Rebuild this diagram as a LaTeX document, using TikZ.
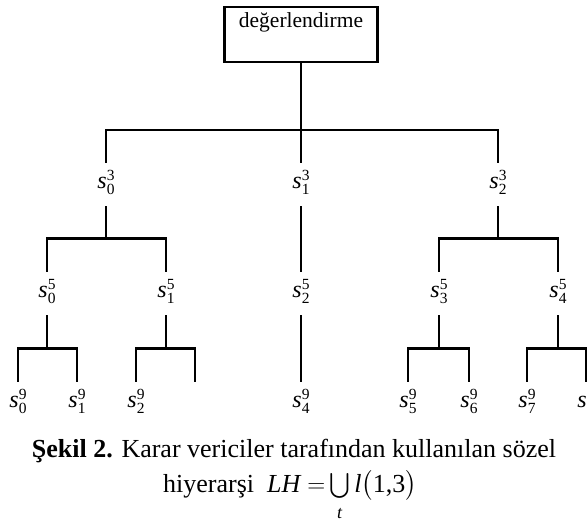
\documentclass[tikz,border=0pt]{standalone}
\usepackage{amsmath}
\usepackage{fontspec}
\setmainfont{Liberation Serif}

\newcommand{\svfont}{\fontsize{15.5}{16}\selectfont}
\newcommand{\sv}[2]{\textit{s}\raisebox{-6pt}{\svfont\begin{tabular}[b]{@{}l@{}}#2\\[-2pt]#1\end{tabular}}}

\tikzset{
    box/.style={draw, line width=2.2pt, minimum width=153pt, inner sep=0pt,
        text height=20pt, text depth=35pt, font=\fontsize{21.5}{24}\selectfont},
    lbl/.style={inner sep=0pt, minimum height=43pt, minimum width=20pt,
        font=\fontsize{24}{26}\selectfont},
    link/.style={line width=2.2pt},
    capline/.style={anchor=base, inner sep=0pt, font=\fontsize{26}{30}\selectfont},
}

\begin{document}
\begin{tikzpicture}[x=1pt, y=-1pt]
    \useasboundingbox (0,0) rectangle (587,523);
    \node [box, anchor=base] (r) at (301,27) {değerlendirme};
    % first level
    \node [lbl] (a0) at (106,184.5) {\sv{0}{3}};
    \node [lbl] (a1) at (301,184.5) {\sv{1}{3}};
    \node [lbl] (a2) at (498,184.5) {\sv{2}{3}};
    % second level
    \node [lbl] (b0) at (47,293.5) {\sv{0}{5}};
    \node [lbl] (b1) at (166,293.5) {\sv{1}{5}};
    \node [lbl] (b2) at (301,293.5) {\sv{2}{5}};
    \node [lbl] (b3) at (439,293.5) {\sv{3}{5}};
    \node [lbl] (b4) at (558,293.5) {\sv{4}{5}};
    % leaves
    \node [lbl] (c0) at (18,403.5) {\sv{0}{9}};
    \node [lbl] (c1) at (77,403.5) {\sv{1}{9}};
    \node [lbl] (c2) at (136,403.5) {\sv{2}{9}};
    \coordinate (c3) at (195,382);
    \node [lbl] (c4) at (301,403.5) {\sv{4}{9}};
    \node [lbl] (c5) at (408,403.5) {\sv{5}{9}};
    \node [lbl] (c6) at (469,403.5) {\sv{6}{9}};
    \node [lbl] (c7) at (527,403.5) {\sv{7}{9}};
    \node [lbl] (c8) at (586,403.5) {\sv{8}{9}};
    % junctions
    \coordinate (j0) at (301,130);
    \coordinate (j1) at (106,238.5);
    \coordinate (j2) at (498,238.5);
    \coordinate (j3) at (47,348.5);
    \coordinate (j4) at (166,348.5);
    \coordinate (j5) at (439,348.5);
    \coordinate (j6) at (558,348.5);
    \draw [link] (r.south) -- (j0) -- (a1.north);
    \draw [link] (a0.north) |- (j0) -| (a2.north);
    \draw [link] (a0.south) -- (j1);
    \draw [link] (b0.north) |- (j1) -| (b1.north);
    \draw [link] (a1.south) -- (b2.north);
    \draw [link] (a2.south) -- (j2);
    \draw [link] (b3.north) |- (j2) -| (b4.north);
    \draw [link] (b0.south) -- (j3);
    \draw [link] (c0.north) |- (j3) -| (c1.north);
    \draw [link] (b1.south) -- (j4);
    \draw [link] (c2.north) |- (j4) -| (c3);
    \draw [link] (b2.south) -- (c4.north);
    \draw [link] (b3.south) -- (j5);
    \draw [link] (c5.north) |- (j5) -| (c6.north);
    \draw [link] (b4.south) -- (j6);
    \draw [link] (c7.north) |- (j6) -| (c8.north);
    % caption
    \node [capline] (cap1) at (294,457)
        {\textbf{Şekil 2.} Karar vericiler tarafından kullanılan sözel};
    \node [capline] (cap2) at (290,492)
        {hiyerarşi\ \ $\textit{LH}\;{=}\mathop{\bigcup}\limits_{\raisebox{-5pt}{\fontsize{18}{18}\selectfont\textit{t}}}\textit{l}\bigl(\text{1,3}\bigr)$};
\end{tikzpicture}
\end{document}
